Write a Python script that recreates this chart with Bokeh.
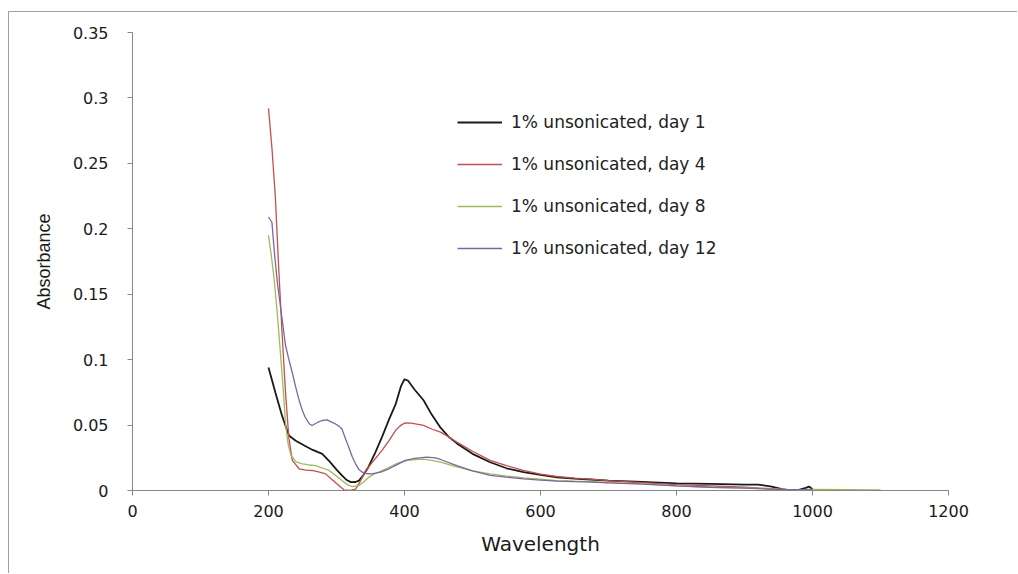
from bokeh.plotting import figure
from bokeh.models import Range1d, FixedTicker, Legend, LegendItem
from bokeh.embed import file_html
from bokeh.resources import INLINE

# ---- data ----
wl_day1 = [200, 210, 220, 230, 240, 254, 265, 279, 290, 300, 308, 315, 321, 328, 333, 340, 347, 357,
           367, 377, 387, 395, 400, 405, 415, 428, 440, 453, 465, 477, 500, 526, 550, 575, 600, 624,
           650, 673, 700, 750, 800, 850, 900, 920, 940, 955, 968, 980, 990, 995, 1000]
abs_day1 = [0.094, 0.075, 0.057, 0.042, 0.038, 0.034, 0.031, 0.028, 0.022, 0.016, 0.0115, 0.008, 0.0064,
            0.0065, 0.0075, 0.012, 0.018, 0.029, 0.041, 0.054, 0.066, 0.080, 0.085, 0.084, 0.077, 0.069,
            0.058, 0.048, 0.041, 0.036, 0.028, 0.0216, 0.017, 0.014, 0.012, 0.010, 0.009, 0.0084, 0.0075,
            0.0065, 0.0055, 0.005, 0.0045, 0.0045, 0.003, 0.001, 0.0, 0.0005, 0.002, 0.003, 0.001]

wl_day4 = [200, 205, 210, 215, 220, 225, 230, 235, 245, 255, 264, 275, 284, 292, 298, 305, 311, 320,
           328, 335, 343, 355, 367, 377, 387, 395, 401, 410, 428, 440, 453, 465, 477, 500, 526, 550,
           575, 600, 624, 650, 673, 700, 750, 800, 850, 900, 950, 970, 1000]
abs_day4 = [0.292, 0.262, 0.225, 0.17, 0.12, 0.075, 0.04, 0.023, 0.0166, 0.0155, 0.0153, 0.014, 0.0127,
            0.009, 0.0063, 0.003, 0.0005, 0.0, 0.001, 0.007, 0.0153, 0.023, 0.0306, 0.038, 0.046, 0.050,
            0.0517, 0.0515, 0.0497, 0.047, 0.0446, 0.041, 0.037, 0.030, 0.023, 0.019, 0.0153, 0.0125,
            0.0107, 0.0095, 0.0087, 0.0075, 0.006, 0.0045, 0.0035, 0.0025, 0.001, 0.0005, 0.0005]

wl_day8 = [200, 204, 208, 213, 218, 222, 225, 229, 233, 240, 250, 260, 269, 280, 289, 300, 308, 316,
           323, 333, 340, 347, 357, 367, 379, 390, 404, 420, 428, 440, 453, 477, 500, 526, 550, 575,
           600, 624, 650, 673, 700, 750, 800, 850, 900, 950, 970, 1000, 1050, 1100]
abs_day8 = [0.195, 0.18, 0.163, 0.135, 0.102, 0.075, 0.051, 0.035, 0.027, 0.022, 0.0204, 0.0195, 0.019,
            0.017, 0.0153, 0.011, 0.0076, 0.0045, 0.003, 0.0038, 0.0065, 0.010, 0.013, 0.0153, 0.018,
            0.021, 0.023, 0.0238, 0.024, 0.023, 0.0216, 0.018, 0.015, 0.0127, 0.011, 0.0097, 0.0087,
            0.0076, 0.0072, 0.007, 0.006, 0.005, 0.0035, 0.0025, 0.002, 0.001, 0.0005, 0.0008, 0.0007,
            0.0005]

wl_day12 = [200, 205, 209, 213, 219, 225, 230, 235, 240, 245, 250, 254, 260, 264, 272, 279, 286, 292,
            298, 304, 308, 313, 318, 323, 328, 333, 338, 345, 352, 365, 377, 390, 401, 415, 433, 445,
            453, 477, 500, 526, 550, 575, 600, 624, 650, 673, 700, 750, 800, 850, 900, 950, 1000]
abs_day12 = [0.209, 0.205, 0.18, 0.159, 0.135, 0.111, 0.10, 0.09, 0.079, 0.069, 0.061, 0.056, 0.051,
             0.0497, 0.052, 0.0535, 0.054, 0.0525, 0.051, 0.049, 0.047, 0.040, 0.033, 0.026, 0.0204,
             0.016, 0.014, 0.0128, 0.0127, 0.014, 0.0166, 0.020, 0.023, 0.0245, 0.0255, 0.025, 0.0237,
             0.019, 0.015, 0.0115, 0.0102, 0.0089, 0.008, 0.0071, 0.0068, 0.0064, 0.0058, 0.0048,
             0.0035, 0.0025, 0.0018, 0.0008, 0.0005]

series_names = ["1% unsonicated, day 1", "1% unsonicated, day 4",
                "1% unsonicated, day 8", "1% unsonicated, day 12"]
series_colors = ["#1a1a1a", "#c0504d", "#9bbb59", "#8064a2"]

x_ticks = [0, 200, 400, 600, 800, 1000, 1200]
y_ticks = [0, 0.05, 0.1, 0.15, 0.2, 0.25, 0.3, 0.35]
y_tick_labels = ["0", "0.05", "0.1", "0.15", "0.2", "0.25", "0.3", "0.35"]

# ---- figure ----
p = figure(width=1009, height=562, output_backend="svg", toolbar_location=None,
           x_range=Range1d(0, 1200), y_range=Range1d(0, 0.35),
           min_border_left=123, min_border_right=70, min_border_top=20, min_border_bottom=84)
p.margin = (11, 0, 0, 8)
p.styles = {"border-left": "1px solid #a0a0a0", "border-top": "1px solid #a0a0a0"}
p.outline_line_color = None
p.grid.visible = False
p.background_fill_color = "white"
p.border_fill_color = "white"

xs = [wl_day1, wl_day4, wl_day8, wl_day12]
ys = [abs_day1, abs_day4, abs_day8, abs_day12]
widths = [1.8, 1.3, 1.3, 1.3]
items = []
for x, y, c, n, w in zip(xs, ys, series_colors, series_names, widths):
    r = p.line(x, y, line_color=c, line_width=w)
    items.append(LegendItem(label=n, renderers=[r]))

legend = Legend(items=items, location=(325, 232), orientation="vertical",
                glyph_width=45, glyph_height=20, label_height=20, spacing=22,
                label_standoff=9, padding=0, margin=0,
                border_line_alpha=0, background_fill_alpha=0,
                label_text_font="DejaVu Sans", label_text_font_size="17px",
                label_text_color="#222222")
p.add_layout(legend, "center")

axis_color = "#868686"
for ax in (p.xaxis[0], p.yaxis[0]):
    ax.axis_line_color = axis_color
    ax.major_tick_line_color = axis_color
    ax.minor_tick_line_color = None
    ax.major_tick_in = 0
    ax.major_tick_out = 5
    ax.major_label_text_font = "DejaVu Sans"
    ax.major_label_text_font_size = "16px"
    ax.major_label_text_color = "#1a1a1a"
    ax.axis_label_text_font_style = "normal"
    ax.axis_label_text_color = "#1a1a1a"

p.xaxis.ticker = FixedTicker(ticks=x_ticks)
p.yaxis.ticker = FixedTicker(ticks=y_ticks)
p.yaxis.major_label_overrides = {t: s for t, s in zip(y_ticks, y_tick_labels)}
p.xaxis.major_label_standoff = 9
p.yaxis.major_label_standoff = 19

p.xaxis.axis_label = "Wavelength"
p.xaxis.axis_label_text_font = "DejaVu Sans"
p.xaxis.axis_label_text_font_size = "20px"
p.xaxis.axis_label_standoff = 12

p.yaxis.axis_label = "Absorbance"
p.yaxis.axis_label_text_font = "Liberation Sans"
p.yaxis.axis_label_text_font_size = "18px"
p.yaxis.axis_label_standoff = 16

open("out.html", "w").write(file_html(p, INLINE))
